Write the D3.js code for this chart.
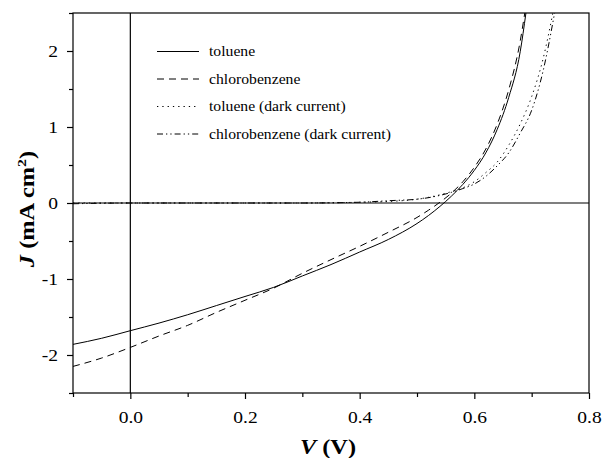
<!DOCTYPE html>
<html>
<head>
<meta charset="utf-8">
<script src="https://cdn.jsdelivr.net/npm/d3@7/dist/d3.min.js"></script>
<style>
  html, body { margin: 0; padding: 0; background: #fff; }
  svg { display: block; }
  text { font-family: "Liberation Serif", "Times New Roman", serif; fill: #000; }
</style>
</head>
<body>
<svg id="chart" width="603" height="458"></svg>
<script>
// J–V curves of devices cast from toluene and chlorobenzene (light and dark)
const tolueneV = [-0.10, -0.05, 0.00, 0.05, 0.10, 0.15, 0.20, 0.25, 0.30, 0.35, 0.40, 0.45, 0.50, 0.52, 0.54, 0.56, 0.58, 0.60, 0.62, 0.64, 0.66, 0.68, 0.69];
const tolueneJ = [-1.86, -1.78, -1.68, -1.58, -1.47, -1.35, -1.23, -1.11, -0.96, -0.81, -0.645, -0.48, -0.27, -0.165, -0.045, 0.09, 0.245, 0.43, 0.66, 0.97, 1.39, 1.99, 2.50];

const chloroV = [-0.10, -0.05, 0.00, 0.05, 0.10, 0.15, 0.20, 0.25, 0.30, 0.35, 0.40, 0.45, 0.50, 0.52, 0.54, 0.56, 0.58, 0.60, 0.62, 0.64, 0.66, 0.68, 0.688];
const chloroJ = [-2.15, -2.04, -1.90, -1.75, -1.61, -1.44, -1.28, -1.12, -0.925, -0.745, -0.57, -0.385, -0.19, -0.095, 0.01, 0.13, 0.28, 0.47, 0.71, 1.04, 1.49, 2.13, 2.50];

const tolueneDarkV = [-0.10, 0.00, 0.10, 0.20, 0.30, 0.40, 0.45, 0.50, 0.53, 0.56, 0.58, 0.60, 0.62, 0.64, 0.66, 0.68, 0.70, 0.72, 0.737];
const tolueneDarkJ = [0.00, 0.00, 0.00, 0.00, 0.00, 0.01, 0.02, 0.05, 0.09, 0.15, 0.20, 0.28, 0.40, 0.54, 0.76, 1.04, 1.40, 1.90, 2.50];

const chloroDarkV = [-0.10, 0.00, 0.10, 0.20, 0.30, 0.40, 0.45, 0.50, 0.52, 0.56, 0.58, 0.60, 0.62, 0.64, 0.66, 0.68, 0.70, 0.72, 0.74];
const chloroDarkJ = [-0.01, 0.00, 0.00, 0.00, 0.00, 0.01, 0.03, 0.05, 0.07, 0.14, 0.19, 0.25, 0.35, 0.49, 0.66, 0.92, 1.22, 1.74, 2.50];

const legendLabels = ["toluene", "chlorobenzene", "toluene (dark current)", "chlorobenzene (dark current)"];
const xMajorTicks = [0.0, 0.2, 0.4, 0.6, 0.8];
const xMinorTicks = [-0.1, 0.1, 0.3, 0.5, 0.7];
const yMajorTicks = [-2, -1, 0, 1, 2];
const yMinorTicks = [-2.5, -1.5, -0.5, 0.5, 1.5, 2.5];

const series = [
  { v: tolueneV, j: tolueneJ, dash: null },
  { v: chloroV, j: chloroJ, dash: "7,5" },
  { v: tolueneDarkV, j: tolueneDarkJ, dash: "1.3,4" },
  { v: chloroDarkV, j: chloroDarkJ, dash: "6,3,1.3,3,1.3,3" }
];

// the typeset text in this figure is set slightly wide
const wideText = 1.22;
const wideLegend = 1.12;

const svg = d3.select("#chart");
const padL = 73, padR = 589, padT = 13, padB = 393;

const x = d3.scaleLinear().domain([-0.1, 0.8]).range([padL, padR]);
const y = d3.scaleLinear().domain([-2.5, 2.5]).range([padB, padT]);

svg.append("defs").append("clipPath").attr("id", "plotClip")
  .append("rect").attr("x", padL).attr("y", padT)
  .attr("width", padR - padL).attr("height", padB - padT);

// reference lines at V = 0 and J = 0
svg.append("line").attr("x1", x(0)).attr("x2", x(0)).attr("y1", padT).attr("y2", padB)
  .attr("stroke", "#000").attr("stroke-width", 1.2);
svg.append("line").attr("x1", padL).attr("x2", padR).attr("y1", y(0)).attr("y2", y(0))
  .attr("stroke", "#000").attr("stroke-width", 1.2);

// axes
const xAxis = d3.axisBottom(x).tickValues(xMajorTicks).tickFormat(d3.format(".1f")).tickSize(6).tickSizeOuter(0);
const xMinor = d3.axisBottom(x).tickValues(xMinorTicks).tickFormat("").tickSize(4).tickSizeOuter(0);
const yAxis = d3.axisLeft(y).tickValues(yMajorTicks).tickFormat(d => d < 0 ? "-" + Math.abs(d) : String(d)).tickSize(6).tickSizeOuter(0);
const yMinor = d3.axisLeft(y).tickValues(yMinorTicks).tickFormat("").tickSize(4).tickSizeOuter(0);

function styleAxis(g) {
  g.select(".domain").remove();
  g.selectAll(".tick line").attr("stroke", "#000").attr("stroke-width", 1.2);
  g.selectAll(".tick text").style("font-family", '"Liberation Serif", serif')
    .style("font-size", "16px").attr("fill", "#000");
}

const gx = svg.append("g").attr("transform", `translate(0,${padB})`).call(xAxis).call(styleAxis);
gx.selectAll(".tick text").attr("dy", null).attr("y", 30).attr("x", 0)
  .attr("transform", `scale(${wideText},1)`);
svg.append("g").attr("transform", `translate(0,${padB})`).call(xMinor).call(styleAxis);
const gy = svg.append("g").attr("transform", `translate(${padL},0)`).call(yAxis).call(styleAxis);
gy.selectAll(".tick text").attr("x", -15 / wideText).attr("transform", `scale(${wideText},1)`);
svg.append("g").attr("transform", `translate(${padL},0)`).call(yMinor).call(styleAxis);

// frame
svg.append("rect").attr("x", padL).attr("y", padT).attr("width", padR - padL).attr("height", padB - padT)
  .attr("fill", "none").attr("stroke", "#000").attr("stroke-width", 1.2);

// curves
const line = d3.line().x(d => x(d[0])).y(d => y(d[1])).curve(d3.curveMonotoneX);
const plot = svg.append("g").attr("clip-path", "url(#plotClip)");
series.forEach(s => {
  const pts = s.v.map((v, i) => [v, s.j[i]]);
  plot.append("path").datum(pts).attr("d", line)
    .attr("fill", "none").attr("stroke", "#000").attr("stroke-width", 1)
    .attr("stroke-dasharray", s.dash);
});

// legend
const legendRows = [51.5, 79, 106.5, 134];
const legend = svg.append("g");
series.forEach((s, i) => {
  legend.append("line").attr("x1", 157).attr("x2", 199).attr("y1", legendRows[i]).attr("y2", legendRows[i])
    .attr("stroke", "#000").attr("stroke-width", 1).attr("stroke-dasharray", s.dash);
  legend.append("text")
    .attr("transform", `translate(209,${legendRows[i] + 4.5}) scale(${wideLegend},1)`)
    .style("font-size", "14px").text(legendLabels[i]);
});

// axis titles
const xt = svg.append("text")
  .attr("transform", `translate(${(padL + padR) / 2 - 3},454) scale(${wideText},1)`)
  .attr("text-anchor", "middle").style("font-size", "20px").style("font-weight", "bold");
xt.append("tspan").style("font-style", "italic").text("V");
xt.append("tspan").text(" (V)");

const yt = svg.append("text").attr("transform", `translate(34,209) rotate(-90) scale(${wideText},1)`)
  .attr("text-anchor", "middle").style("font-size", "20px").style("font-weight", "bold");
yt.append("tspan").style("font-style", "italic").text("J");
yt.append("tspan").text(" (mA cm");
yt.append("tspan").attr("dy", -8).style("font-size", "13px").text("2");
yt.append("tspan").attr("dy", 8).text(")");
</script>
</body>
</html>
